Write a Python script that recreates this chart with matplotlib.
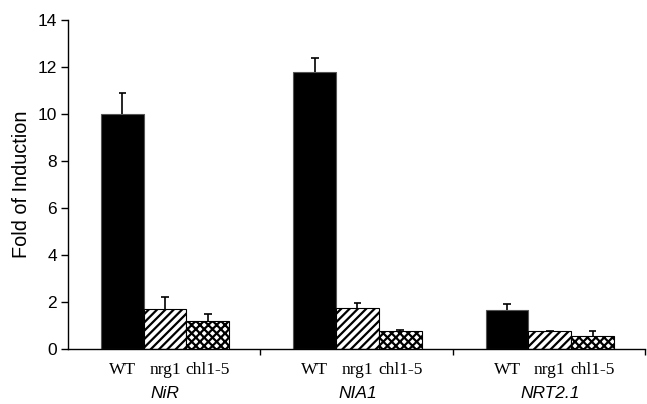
import matplotlib
matplotlib.use("Agg")
import matplotlib.pyplot as plt
import numpy as np
from matplotlib.transforms import blended_transform_factory

genes = ["NiR", "NIA1", "NRT2.1"]
lines = ["WT", "nrg1", "chl1-5"]
wt = [10.0, 11.8, 1.65]
nrg1 = [1.7, 1.75, 0.75]
chl15 = [1.2, 0.75, 0.55]
wt_err = [0.9, 0.6, 0.25]
nrg1_err = [0.5, 0.2, 0.02]
chl15_err = [0.3, 0.07, 0.2]
yticks = [0, 2, 4, 6, 8, 10, 12, 14]

plt.rcParams['hatch.linewidth'] = 1.6
fig = plt.figure(figsize=(6.47, 4.04), dpi=100)
ax = fig.add_axes([0.105, 0.136, 0.892, 0.814])

x = np.arange(len(genes))
w = 0.222
cap = 0.02
series = [(wt, wt_err, dict(color="black", edgecolor="#555555")),
          (nrg1, nrg1_err, dict(color="white", edgecolor="black", hatch="////")),
          (chl15, chl15_err, dict(color="white", edgecolor="black", hatch="xxxx"))]
offs = [-w, 0, w]
for (vals, errs, st), o in zip(series, offs):
    xs = x + o + 0.005
    vals = np.asarray(vals)
    tops = vals + np.asarray(errs)
    ax.bar(xs, vals, w, linewidth=0.8, zorder=2, **st)
    ax.vlines(xs, vals, tops, colors="black", linewidth=1.2, zorder=3)
    ax.hlines(tops, xs - cap, xs + cap, colors="black", linewidth=1.2, zorder=3)

ax.set_xlim(-0.5, 2.5)
ax.set_ylim(0, 14)
ax.set_yticks(yticks)
ax.set_yticklabels([str(v) for v in yticks], fontsize=12.5, family="Liberation Sans")
ax.tick_params(axis="y", direction="out", length=5, width=1, pad=3)
ax.set_xticks([0.5, 1.5, 2.5])
ax.set_xticklabels([])
ax.tick_params(axis="x", direction="out", length=4, width=1)
for s in ["top", "right"]:
    ax.spines[s].set_visible(False)
ax.spines["left"].set_linewidth(1)
ax.spines["bottom"].set_linewidth(1)

ax.set_ylabel("Fold of Induction", fontsize=14.3, family="Liberation Sans", labelpad=5)

tr = blended_transform_factory(ax.transData, ax.transAxes)
for i, g in enumerate(genes):
    for o, lab in zip(offs, lines):
        ax.text(i + o + 0.005, -0.040, lab, transform=tr, ha="center", va="top",
                fontsize=12.5, family="Liberation Serif")
    ax.text(i + 0.005, -0.112, g, transform=tr, ha="center", va="top",
            fontsize=12.5, family="Liberation Sans", style="italic")

fig.savefig("out.png", dpi=100)
